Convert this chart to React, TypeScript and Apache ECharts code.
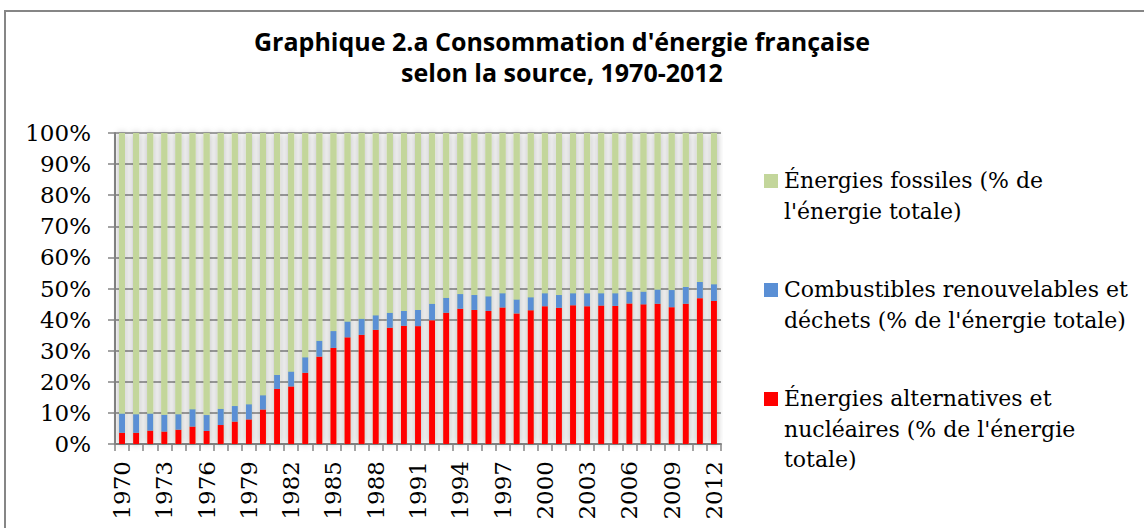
import React, { useEffect, useRef } from "react";
import * as echarts from "echarts";

const years: string[] = [
  "1970", "1971", "1972", "1973", "1974", "1975", "1976", "1977", "1978", "1979",
  "1980", "1981", "1982", "1983", "1984", "1985", "1986", "1987", "1988", "1989",
  "1990", "1991", "1992", "1993", "1994", "1995", "1996", "1997", "1998", "1999",
  "2000", "2001", "2002", "2003", "2004", "2005", "2006", "2007", "2008", "2009",
  "2010", "2011", "2012",
];

// Énergies alternatives et nucléaires (% de l'énergie totale)
const nucleaire: number[] = [
  3.6, 3.6, 4.3, 4.0, 4.6, 5.6, 4.2, 6.1, 7.2, 7.9,
  11.1, 17.7, 18.5, 22.9, 28.1, 30.9, 34.3, 35.1, 36.7, 37.4,
  38.0, 37.9, 39.8, 42.2, 43.5, 43.1, 42.8, 43.9, 42.0, 43.0,
  44.3, 43.8, 44.6, 44.3, 44.5, 44.4, 45.2, 44.9, 45.1, 44.0,
  45.1, 46.9, 46.0,
];

// Combustibles renouvelables et déchets (% de l'énergie totale)
const combustibles: number[] = [
  6.2, 6.0, 5.5, 5.4, 5.0, 5.6, 5.1, 5.2, 5.0, 4.9,
  4.6, 4.5, 4.8, 5.0, 5.1, 5.4, 5.1, 5.2, 4.7, 4.8,
  4.8, 5.2, 5.3, 4.8, 4.7, 4.8, 4.7, 4.6, 4.5, 4.2,
  4.2, 4.1, 3.9, 4.2, 4.0, 4.1, 3.8, 4.1, 4.6, 5.5,
  5.4, 5.2, 5.4,
];

// Énergies fossiles (% de l'énergie totale)
const fossiles: number[] = [
  90.2, 90.4, 90.2, 90.6, 90.4, 88.8, 90.7, 88.7, 87.8, 87.2,
  84.3, 77.8, 76.7, 72.1, 66.8, 63.7, 60.6, 59.7, 58.6, 57.8,
  57.2, 56.9, 54.9, 53.0, 51.8, 52.1, 52.5, 51.5, 53.5, 52.8,
  51.5, 52.1, 51.5, 51.5, 51.5, 51.5, 51.0, 51.0, 50.3, 50.5,
  49.5, 47.9, 48.6,
];

const yTicks: number[] = [0, 10, 20, 30, 40, 50, 60, 70, 80, 90, 100];

const seriesNames: string[] = [
  "Énergies alternatives et nucléaires (% de l'énergie totale)",
  "Combustibles renouvelables et déchets (% de l'énergie totale)",
  "Énergies fossiles (% de l'énergie totale)",
];

const legendLines: string[][] = [
  ["Énergies fossiles (% de", "l'énergie totale)"],
  ["Combustibles renouvelables et", "déchets (% de l'énergie totale)"],
  ["Énergies alternatives et", "nucléaires (% de l'énergie", "totale)"],
];

const titleLines: string[] = [
  "Graphique 2.a Consommation d'énergie française",
  "selon la source, 1970-2012",
];

const RED = "#ff0000";
const BLUE = "#5a8fd5";
const GREEN = "#c3d69b";
const AXIS = "#868686";
const SERIF = "'DejaVu Serif', serif";

export default function App() {
  const ref = useRef<HTMLDivElement>(null);

  useEffect(() => {
    document.body.style.margin = "0";
    if (!ref.current) return;
    const chart = echarts.init(ref.current, undefined, { renderer: "svg" });

    const legendColors = [GREEN, BLUE, RED];
    const legendCenters = [181, 290, 399];
    const legendGraphics: any[] = [];
    legendLines.forEach((lines, i) => {
      legendGraphics.push({
        type: "rect",
        shape: { x: 764, y: legendCenters[i] - 7, width: 14, height: 14 },
        style: { fill: legendColors[i] },
      });
      legendGraphics.push({
        type: "text",
        x: 784,
        y: legendCenters[i] - 15.5,
        style: {
          text: lines.join("\n"),
          font: `22px ${SERIF}`,
          fill: "#000",
          lineHeight: 30.5,
          textVerticalAlign: "top",
          textAlign: "left",
        },
      });
    });

    const titleGraphics = titleLines.map((t, i) => ({
      type: "text",
      x: 562,
      y: 41 + i * 31,
      style: {
        text: t,
        font: "bold 25px 'Open Sans', sans-serif",
        fill: "#000",
        textAlign: "center",
        textVerticalAlign: "middle",
      },
    }));

    chart.setOption({
      animation: false,
      backgroundColor: "#ffffff",
      grid: { left: 115, right: 423, top: 133, bottom: 84, containLabel: false },
      xAxis: {
        type: "category",
        data: years,
        boundaryGap: true,
        axisLine: { lineStyle: { color: AXIS, width: 2 } },
        axisTick: { show: true, interval: 0, length: 7, lineStyle: { color: AXIS, width: 1.5 } },
        axisLabel: {
          interval: 2,
          rotate: 90,
          margin: 17,
          color: "#000",
          fontFamily: SERIF,
          fontSize: 23,
        },
      },
      yAxis: {
        type: "value",
        min: yTicks[0],
        max: yTicks[yTicks.length - 1],
        interval: 10,
        axisLine: { show: true, lineStyle: { color: AXIS, width: 2 } },
        axisTick: { show: true, length: 7, lineStyle: { color: AXIS, width: 1.5 } },
        axisLabel: {
          formatter: "{value}%",
          margin: 24,
          color: "#000",
          fontFamily: SERIF,
          fontSize: 23,
        },
        splitLine: { show: true, lineStyle: { color: AXIS, width: 1.5 } },
      },
      series: [
        {
          name: seriesNames[0],
          type: "bar",
          stack: "total",
          data: nucleaire,
          barWidth: "42%",
          itemStyle: { color: RED },
          showBackground: true,
          backgroundStyle: {
            color: GREEN,
            shadowBlur: 7,
            shadowColor: "rgba(0,0,0,0.35)",
          },
        },
        {
          name: seriesNames[1],
          type: "bar",
          stack: "total",
          data: combustibles,
          barWidth: "42%",
          itemStyle: { color: BLUE },
        },
        {
          name: seriesNames[2],
          type: "bar",
          stack: "total",
          data: fossiles,
          barWidth: "42%",
          itemStyle: { color: GREEN },
        },
      ],
      graphic: [
        {
          type: "rect",
          shape: { x: 5, y: 11, width: 1300, height: 700 },
          style: { fill: "none", stroke: AXIS, lineWidth: 2 },
          z: -10,
        },
        ...titleGraphics,
        ...legendGraphics,
      ],
    });

    return () => chart.dispose();
  }, []);

  return <div ref={ref} style={{ width: 1144, height: 528 }} />;
}
